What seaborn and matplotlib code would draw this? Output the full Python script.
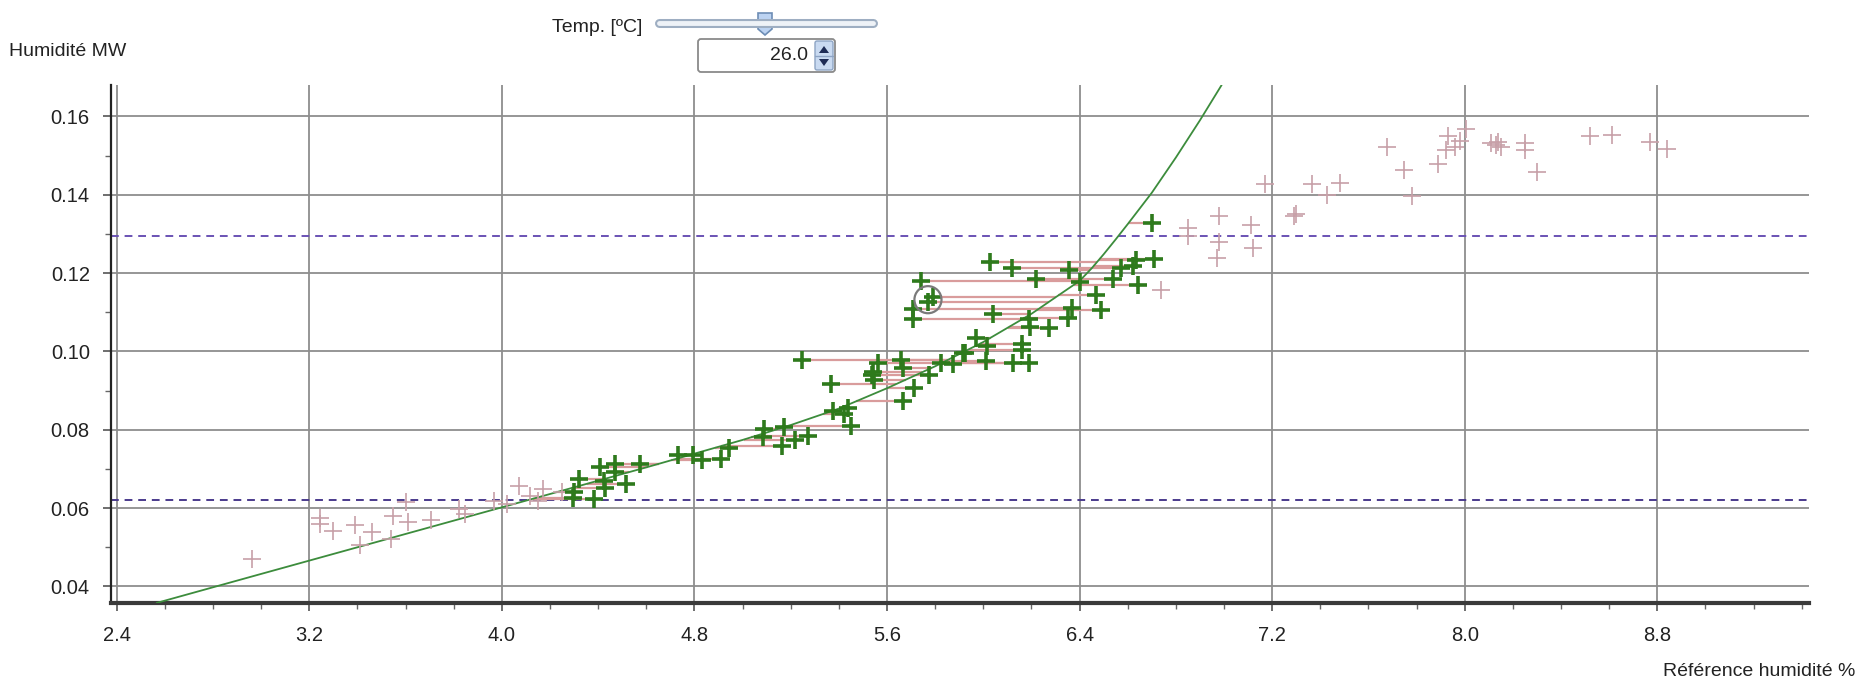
import numpy as np
import matplotlib
matplotlib.use('Agg')
import matplotlib.pyplot as plt
from matplotlib.patches import FancyBboxPatch, Polygon
from matplotlib.lines import Line2D
from matplotlib.transforms import Affine2D
from matplotlib.ticker import MultipleLocator
import seaborn as sns

# calibration curve
curve_x = [2.566, 3.0, 3.4, 3.8, 4.2, 4.6, 5.0, 5.2, 5.4, 5.6, 5.8, 6.0,
           6.2, 6.4, 6.45, 6.5, 6.55, 6.6, 6.7, 6.8, 6.9, 6.99]
curve_y = [0.0358, 0.0432, 0.0500, 0.0568, 0.0636, 0.0704, 0.0774, 0.0812,
           0.0854, 0.0906, 0.0962, 0.1024, 0.1096, 0.1180, 0.1212, 0.1248,
           0.1286, 0.1325, 0.1405, 0.1495, 0.1590, 0.1680]

# points used for the fit (green)
green_x = [4.295, 4.30, 4.382, 4.32, 4.406, 4.468, 4.43, 4.426, 4.468, 4.516, 4.572,
           4.731, 4.793, 4.83, 4.911, 4.943,
           5.088, 5.084, 5.17, 5.164, 5.219, 5.27,
           5.377, 5.436, 5.422, 5.45, 5.368, 5.246,
           5.536, 5.561, 5.543, 5.547, 5.658, 5.668, 5.668, 5.711,
           5.776, 5.825, 5.873, 5.915, 5.97, 5.922,
           6.012, 6.015, 6.123, 6.162, 6.162, 6.19, 6.04, 6.19, 6.192, 6.271,
           5.743, 5.791, 5.77, 5.708, 5.708, 6.029, 6.119, 6.22, 6.358, 6.4,
           6.37, 6.352, 6.469, 6.49, 6.538, 6.573, 6.621, 6.633, 6.642, 6.711, 6.70]
green_y = [0.0626, 0.0640, 0.0624, 0.0675, 0.0705, 0.0713, 0.0651, 0.0668, 0.0692, 0.0662, 0.0713,
           0.0736, 0.0736, 0.0722, 0.0726, 0.0754,
           0.0803, 0.0781, 0.0808, 0.0758, 0.0775, 0.0785,
           0.0848, 0.0855, 0.0840, 0.0810, 0.0916, 0.0979,
           0.0941, 0.0971, 0.0947, 0.0928, 0.0979, 0.0958, 0.0873, 0.0907,
           0.0940, 0.0971, 0.0967, 0.0995, 0.1035, 0.0997,
           0.0975, 0.1014, 0.0971, 0.1020, 0.1004, 0.0971, 0.1095, 0.1082, 0.1062, 0.1061,
           0.1179, 0.1139, 0.1126, 0.1107, 0.1082, 0.1228, 0.1213, 0.1186, 0.1207, 0.1176,
           0.1111, 0.1084, 0.1143, 0.1105, 0.1186, 0.1213, 0.1217, 0.1234, 0.1170, 0.1235, 0.1327]

# points left out (pink)
pink_x = [2.96, 3.246, 3.246, 3.298, 3.39, 3.46, 3.41, 3.54, 3.549, 3.6, 3.61,
          3.706, 3.82, 3.846, 3.966, 4.02, 4.07, 4.115, 4.17, 4.15, 4.25,
          6.74, 6.85, 6.85, 6.98, 6.98, 6.97, 7.11, 7.12, 7.17, 7.29, 7.297,
          7.367, 7.427, 7.481, 7.678, 7.749, 7.779, 7.889, 7.92, 7.93, 7.96,
          7.98, 8.004, 8.11, 8.13, 8.15, 8.14, 8.25, 8.25, 8.30, 8.52, 8.61,
          8.77, 8.84]
pink_y = [0.0470, 0.0575, 0.0560, 0.0541, 0.0556, 0.0538, 0.0507, 0.0522, 0.0580, 0.0615, 0.0565,
          0.0569, 0.0598, 0.0586, 0.0617, 0.0611, 0.0656, 0.0630, 0.0649, 0.0617, 0.0640,
          0.1156, 0.1315, 0.1294, 0.1346, 0.1278, 0.1238, 0.1322, 0.1264, 0.1428, 0.1345, 0.1351,
          0.1427, 0.1400, 0.1431, 0.1522, 0.1464, 0.1397, 0.1479, 0.1513, 0.1549, 0.1522,
          0.1536, 0.1568, 0.1532, 0.1528, 0.1522, 0.1535, 0.1532, 0.1513, 0.1457, 0.1549, 0.1553,
          0.1534, 0.1517]

band_low, band_high = 0.062, 0.1295
circled_x, circled_y = [5.77], [0.1132]
temp_value = 26.0

xticks = [2.4, 3.2, 4.0, 4.8, 5.6, 6.4, 7.2, 8.0, 8.8]
yticks = [0.04, 0.06, 0.08, 0.10, 0.12, 0.14, 0.16]

sns.set_style('white')
plt.rcParams['font.family'] = ['Liberation Sans', 'DejaVu Sans']

W, H = 1858, 687
fig = plt.figure(figsize=(W / 100, H / 100), dpi=100)
# pixel coordinates measured from the top-left corner
px = Affine2D().scale(1 / W, -1 / H).translate(0, 1) + fig.transFigure

ax = fig.add_axes([110.7 / W, 1 - 603.3 / H, (1809 - 110.7) / W, (603.3 - 85) / H])
ax.set_xlim(2.375, 9.43)
ax.set_ylim(0.0357, 0.168)

ax.set_axisbelow(True)
ax.grid(which='major', color='#8e8e8e', lw=1.3)
ax.set_xticks(xticks)
ax.set_xticklabels([f'{v:.1f}' for v in xticks])
ax.set_yticks(yticks)
ax.set_yticklabels([f'{v:.2f}' for v in yticks])
ax.xaxis.set_minor_locator(MultipleLocator(0.2))
ax.yaxis.set_minor_locator(MultipleLocator(0.01))
ax.tick_params(which='major', length=6, width=1.2, color='#555', labelsize=14.5,
               labelcolor='#222')
ax.tick_params(axis='x', which='major', pad=10)
ax.tick_params(axis='y', which='major', pad=9)
ax.tick_params(which='minor', length=4, width=1.0, color='#666')
ax.tick_params(left=True, bottom=True, which='both')

for s in ['top', 'right']:
    ax.spines[s].set_visible(False)
ax.spines['left'].set_color('#222')
ax.spines['left'].set_linewidth(1.6)
ax.spines['bottom'].set_color('#3a3a3a')
ax.spines['bottom'].set_linewidth(3)

ax.axhline(band_high, color='#6a52b4', lw=1.4, ls=(0, (4, 3)), zorder=1.5)
ax.axhline(band_low, color='#4a3a8c', lw=1.4, ls=(0, (4, 3)), zorder=1.5)

# horizontal residuals from each green point to the curve
gy = np.array(green_y)
curve_at = np.interp(gy, curve_y, curve_x)
ax.hlines(gy, green_x, curve_at, color='#d99c9c', lw=1.6, zorder=2)

sns.lineplot(x=curve_x, y=curve_y, color='#3c8c3c', lw=1.3, ax=ax, zorder=3)

sns.scatterplot(x=pink_x, y=pink_y, marker='+', s=150, color='#c7a0a8',
                linewidth=1.2, ax=ax, zorder=4)
sns.scatterplot(x=green_x, y=green_y, marker='+', s=170, color='#2e7a1c',
                linewidth=2.6, ax=ax, zorder=5)
ax.scatter(circled_x, circled_y, s=380, facecolors='none', edgecolors='#7a7a7a',
           linewidths=1.6, zorder=6)
ax.set_xlabel('')
ax.set_ylabel('')

fig.text(9, 52, 'Humidité MW', transform=px, ha='left', va='center',
         fontsize=14, color='#222')
fig.text(1855, 672, 'Référence humidité %', transform=px, ha='right', va='center',
         fontsize=14, color='#222')

# temperature widget
fig.text(642, 27, 'Temp. [ºC]', transform=px, ha='right', va='center',
         fontsize=14, color='#222')
fig.add_artist(Line2D([659, 873], [23, 23], transform=px, lw=6.5, color='#9eaec2',
                      solid_capstyle='round'))
fig.add_artist(Line2D([659, 873], [23, 23], transform=px, lw=3.5, color='#eef2f7',
                      solid_capstyle='round'))
fig.add_artist(Polygon([(758, 13), (772, 13), (772, 29), (765, 35), (758, 29)],
                       closed=True, transform=px, facecolor='#bcd3f2',
                       edgecolor='#6d8db5', lw=1.2))
fig.add_artist(FancyBboxPatch((698, 39), 137, 33, transform=px,
                              boxstyle='round,pad=0,rounding_size=3',
                              facecolor='white', edgecolor='#8a8a8a', lw=1.3))
fig.add_artist(FancyBboxPatch((815, 41), 18, 29, transform=px,
                              boxstyle='round,pad=0,rounding_size=2',
                              facecolor='#c9daf1', edgecolor='#8da4c4', lw=1.0))
fig.add_artist(Line2D([815, 833], [56, 56], transform=px, lw=1.0, color='#8da4c4'))
fig.add_artist(Polygon([(819, 53), (829, 53), (824, 46)], closed=True, transform=px,
                       facecolor='#1d2b55', edgecolor='none'))
fig.add_artist(Polygon([(819, 59), (829, 59), (824, 66)], closed=True, transform=px,
                       facecolor='#1d2b55', edgecolor='none'))
fig.text(808, 56, f'{temp_value:.1f}', transform=px, ha='right', va='center',
         fontsize=14, color='#222')

fig.savefig('out.png', dpi=100)
plt.close(fig)
